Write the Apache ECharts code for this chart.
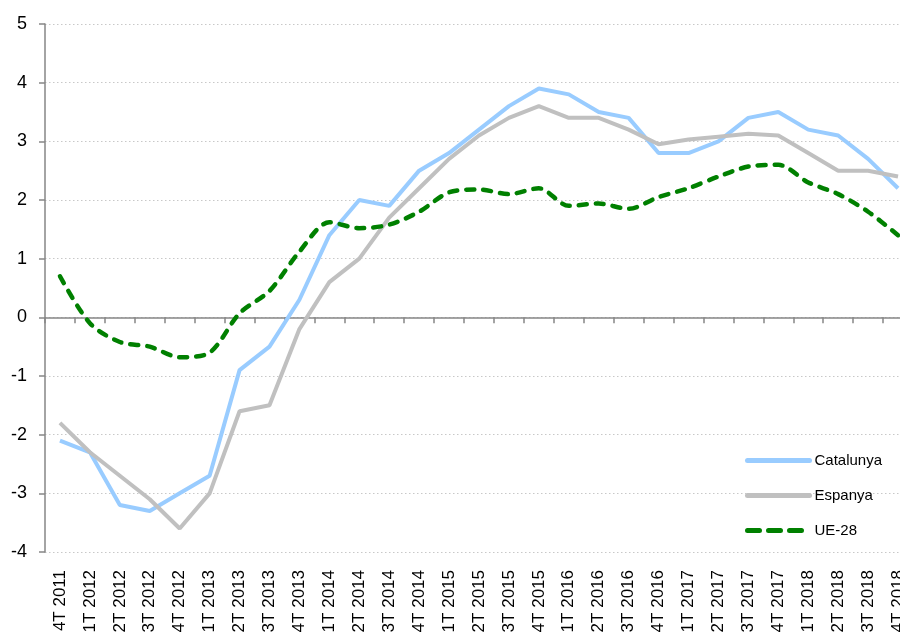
<!DOCTYPE html>
<html>
<head>
<meta charset="utf-8">
<script src="https://cdn.jsdelivr.net/npm/echarts@6/dist/echarts.min.js"></script>
<style>
  html, body { margin: 0; padding: 0; background: #fff; overflow: hidden; }
  #chart { width: 913px; height: 637px; }
</style>
</head>
<body>
<div id="chart"></div>
<script>
var quarters = ["4T 2011", "1T 2012", "2T 2012", "3T 2012", "4T 2012", "1T 2013", "2T 2013", "3T 2013",
  "4T 2013", "1T 2014", "2T 2014", "3T 2014", "4T 2014", "1T 2015", "2T 2015", "3T 2015", "4T 2015",
  "1T 2016", "2T 2016", "3T 2016", "4T 2016", "1T 2017", "2T 2017", "3T 2017", "4T 2017",
  "1T 2018", "2T 2018", "3T 2018", "4T 2018"];

var catalunya = [-2.1, -2.3, -3.2, -3.3, -3.0, -2.7, -0.9, -0.5, 0.3, 1.4, 2.0, 1.9, 2.5, 2.8, 3.2, 3.6,
  3.9, 3.8, 3.5, 3.4, 2.8, 2.8, 3.0, 3.4, 3.5, 3.2, 3.1, 2.7, 2.2];
var espanya = [-1.8, -2.3, -2.7, -3.1, -3.6, -3.0, -1.6, -1.5, -0.2, 0.6, 1.0, 1.7, 2.2, 2.7, 3.1, 3.4,
  3.6, 3.4, 3.4, 3.2, 2.95, 3.03, 3.08, 3.13, 3.1, 2.8, 2.5, 2.5, 2.4];
var ue28 = [0.7, -0.1, -0.42, -0.5, -0.68, -0.6, 0.07, 0.45, 1.12, 1.62, 1.52, 1.58, 1.8, 2.13, 2.18, 2.1,
  2.2, 1.9, 1.94, 1.85, 2.05, 2.2, 2.4, 2.57, 2.6, 2.3, 2.1, 1.8, 1.4];

var yMin = -4, yMax = 5;

// plot area runs a bit past the right edge of the window, like the original
var chart = echarts.init(document.getElementById("chart"));
var axisGray = "#868686";
var font = "'Liberation Sans', Arial, sans-serif";
var blue = "#99ccff", gray = "#c0c0c0", green = "#008000";

chart.setOption({
  animation: false,
  backgroundColor: "#fff",
  textStyle: { fontFamily: font },
  grid: { left: 45, top: 24, right: 0, bottom: 85, containLabel: false },
  legend: {
    orient: "vertical",
    left: 745,
    top: 453,
    padding: 0,
    itemWidth: 62,
    itemHeight: 14,
    itemGap: 20,
    itemStyle: { opacity: 0 },
    textStyle: { fontSize: 15, color: "#000", fontFamily: font },
    data: [
      { name: "Catalunya", lineStyle: { color: blue, width: 5, cap: "round" } },
      { name: "Espanya", lineStyle: { color: gray, width: 5, cap: "round" } },
      { name: "UE-28", lineStyle: { color: green, width: 5, type: [12, 9], cap: "round" } }
    ]
  },
  xAxis: [
    {
      type: "category",
      data: quarters,
      position: "bottom",
      axisLine: { show: false, onZero: false },
      axisTick: { show: false },
      axisLabel: { rotate: 90, margin: 18, fontSize: 17, color: "#000", interval: 0 },
      splitLine: { show: false }
    },
    {
      type: "category",
      data: quarters,
      position: "top",
      axisLine: { show: true, onZero: true, lineStyle: { color: axisGray, width: 1.5 } },
      axisTick: { show: true, inside: true, length: 6, interval: 0, lineStyle: { color: axisGray, width: 1.5 } },
      axisLabel: { show: false },
      splitLine: { show: false }
    }
  ],
  yAxis: {
    type: "value",
    min: yMin,
    max: yMax,
    interval: 1,
    axisLine: { show: true, lineStyle: { color: axisGray, width: 1.5 } },
    axisTick: { show: true, length: 6, lineStyle: { color: axisGray, width: 1.5 } },
    axisLabel: { fontSize: 18, color: "#000", margin: 18 },
    splitLine: { show: true, lineStyle: { color: "#c8c8c8", type: [1.5, 2.5], width: 1 } }
  },
  series: [
    {
      name: "Catalunya",
      type: "line",
      data: catalunya,
      symbol: "none",
      lineStyle: { color: blue, width: 4 },
      itemStyle: { color: blue }
    },
    {
      name: "Espanya",
      type: "line",
      data: espanya,
      symbol: "none",
      lineStyle: { color: gray, width: 4 },
      itemStyle: { color: gray }
    },
    {
      name: "UE-28",
      type: "line",
      data: ue28,
      symbol: "none",
      smooth: 0.3,
      lineStyle: { color: green, width: 4.5, type: [8, 9], cap: "round" },
      itemStyle: { color: green }
    }
  ]
});
</script>
</body>
</html>
